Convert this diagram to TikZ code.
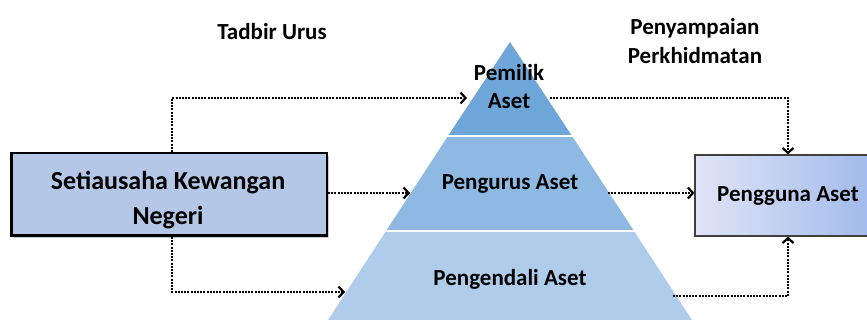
\documentclass[tikz,border=0pt]{standalone}
\usepackage{fontspec}
\setmainfont{Carlito}
\usetikzlibrary{arrows.meta,shadows,positioning}

\definecolor{tiertop}{RGB}{110,166,218}
\definecolor{tiermid}{RGB}{142,185,226}
\definecolor{tierlow}{RGB}{175,205,235}
\definecolor{sukfill}{RGB}{180,199,231}
\definecolor{userleft}{RGB}{224,229,247}
\definecolor{userright}{RGB}{158,184,234}

\begin{document}
\begin{tikzpicture}[x=1pt,y=-1pt,
    lbl/.style={font=\bfseries\fontsize{23}{28}\selectfont, align=center, inner sep=0pt},
    flow/.style={line width=2pt, dash pattern=on 2pt off 1.2pt,
      -{Straight Barb[length=5pt,width=11pt,line width=2.2pt]}}]

        \useasboundingbox (0,0) rectangle (867,320);
        \clip (0,0) rectangle (867,320);

        \fill[tierlow] (386,231) -- (634,231) -- (692,320) -- (328,320) -- cycle;
        \fill[tiermid] (448,136) -- (572,136) -- (634,231) -- (386,231) -- cycle;
        \fill[tiertop] (510,42) -- (572,136) -- (448,136) -- cycle;
        \draw[white, line width=1.5pt] (440,136) -- (580,136);
        \draw[white, line width=1.5pt] (380,231) -- (640,231);

        \node[lbl, font=\bfseries\fontsize{23}{28}\selectfont] (owner) at (509,87) {Pemilik\\Aset};
        \node[lbl, anchor=base] (keeper) at (510,190) {Pengurus Aset};
        \node[lbl, anchor=base] (controller) at (510,285) {Pengendali Aset};

        \node[lbl, anchor=base] (gov) at (272,40) {Tadbir Urus};
        \node[lbl, font=\bfseries\fontsize{23}{29}\selectfont] (service) at (695,41) {Penyampaian\\Perkhidmatan};

        \node[draw=black, line width=2.5pt, fill=sukfill, minimum width=315.5pt, minimum height=82.5pt,
          drop shadow={opacity=0.4, shadow xshift=2.5pt, shadow yshift=-2.5pt}] (suk) at (169,194.5) {};
        \node[lbl, font=\bfseries\fontsize{26}{35}\selectfont] (suktext) at (168,200.5) {Setiausaha Kewangan\\Negeri};

        \node[draw=black!75, line width=1.2pt, left color=userleft, right color=userright,
          minimum width=186pt, minimum height=81pt] (user) at (788,195.5) {};
        \node[lbl, anchor=base] (usertext) at (788,202) {Pengguna Aset};

        \coordinate (topL) at (467,98);
        \coordinate (topR) at (550,98);
        \coordinate (midL) at (410,193);
        \coordinate (midR) at (608,193);
        \coordinate (lowL) at (345,292);
        \coordinate (lowR) at (673,296);

        \draw[flow] ([xshift=3pt]suk.north) |- (topL);
        \draw[flow] (suk.east |- midL) -- (midL);
        \draw[flow] ([xshift=3pt]suk.south) |- (lowL);
        \draw[flow] (topR) -| (user.north);
        \draw[flow] (midR) -- (user.west |- midR);
        \draw[flow] (lowR) -| (user.south);

      \end{tikzpicture}
\end{document}
